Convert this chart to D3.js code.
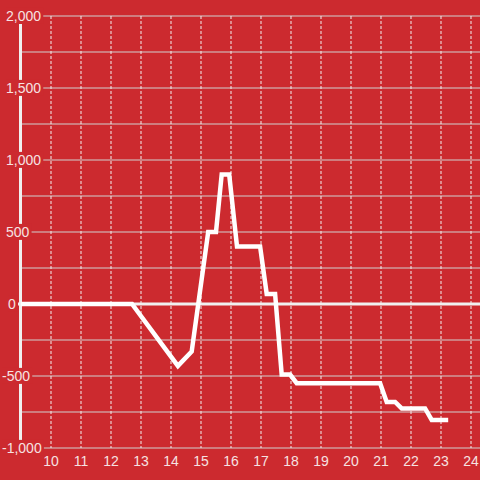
<!DOCTYPE html>
<html><head><meta charset="utf-8">
<script src="https://cdn.jsdelivr.net/npm/d3@7"></script>
<style>html,body{margin:0;padding:0;background:#cc2a2f;}svg{display:block;}</style>
</head><body><svg id="c" width="480" height="480"></svg>
<script>
const hours = [9, 12.7, 14.23, 14.69, 15.24, 15.5, 15.69, 15.94, 16.2, 16.97, 17.19, 17.47, 17.69, 17.97, 18.19, 20.97, 21.19, 21.47, 21.69, 22.47, 22.69, 23.24];
const values = [0, 0, -430, -330, 500, 500, 900, 900, 400, 400, 70, 70, -490, -490, -550, -550, -680, -680, -725, -725, -805, -805];
const xTicks = [10,11,12,13,14,15,16,17,18,19,20,21,22,23,24];
const yTicks = [-1000,-500,0,500,1000,1500,2000];
const yGrid = [-1000,-750,-500,-250,0,250,500,750,1000,1250,1500,1750,2000];

const svg = d3.select("#c");
const x = d3.scaleLinear().domain([10,24]).range([51,471]);
const y = d3.scaleLinear().domain([-1000,2000]).range([448,16]);
const fmt = d3.format(",");

svg.append("rect").attr("width",480).attr("height",480).attr("fill","#cc2a2f");

// horizontal grid
svg.append("g").selectAll("line").data(yGrid.filter(d=>d!==0)).join("line")
  .attr("x1",20).attr("x2",480).attr("y1",d=>y(d)).attr("y2",d=>y(d))
  .attr("stroke","#cfcfcf").attr("stroke-width",1.2);

// vertical dotted grid
svg.append("g").selectAll("line").data(xTicks).join("line")
  .attr("x1",d=>x(d)).attr("x2",d=>x(d)).attr("y1",y(2000)).attr("y2",y(-1000))
  .attr("stroke","#f2f2f2").attr("stroke-width",1).attr("stroke-dasharray","3,2");

// y axis line
svg.append("line").attr("x1",20.5).attr("x2",20.5).attr("y1",24).attr("y2",y(-1000))
  .attr("stroke","#f0f0f0").attr("stroke-width",3);

// zero line
svg.append("line").attr("x1",18).attr("x2",480).attr("y1",y(0)).attr("y2",y(0))
  .attr("stroke","#f0f0f0").attr("stroke-width",3);

// data line
const line = d3.line().x((d,i)=>x(hours[i])).y(d=>y(d));
svg.append("path").datum(values).attr("d",line).attr("fill","none")
  .attr("stroke","#ffffff").attr("stroke-width",4.5).attr("stroke-linejoin","miter");

// y labels with background
const yl = svg.append("g").selectAll("g").data(yTicks).join("g");
yl.append("text").attr("x",d=> d<0 ? 2 : (d===0 ? 8 : 6)).attr("y",d=>y(d)).attr("dy","0.35em")
  .attr("font-family","Liberation Sans, Arial, sans-serif").attr("font-size",14)
  .attr("fill","#f6e2e2").text(d=>fmt(d).replace("−","-"))
  .each(function(){
    const b=this.getBBox();
    d3.select(this.parentNode).insert("rect","text").attr("x",b.x).attr("y",b.y)
      .attr("width",b.width+2).attr("height",b.height).attr("fill","#cc2a2f");
  });

// x labels
svg.append("g").selectAll("text").data(xTicks).join("text")
  .attr("x",d=>x(d)).attr("y",466).attr("text-anchor","middle")
  .attr("font-family","Liberation Sans, Arial, sans-serif").attr("font-size",14)
  .attr("fill","#f6e2e2").text(d=>d);
</script></body></html>
